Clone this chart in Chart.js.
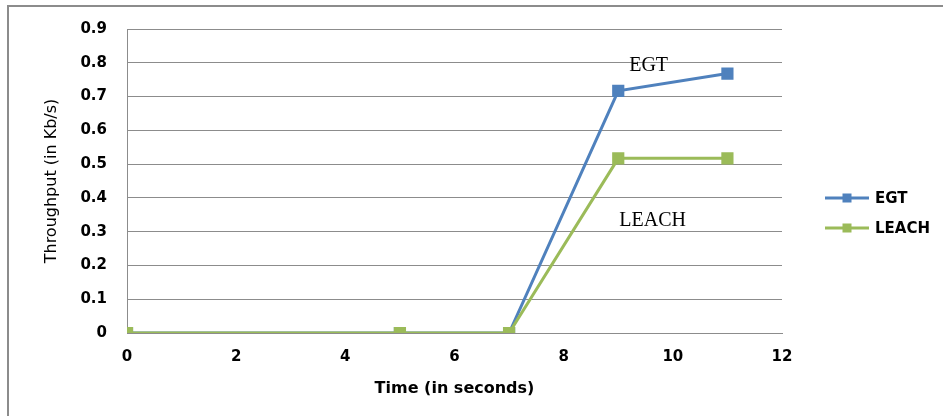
<!DOCTYPE html>
<html>
<head>
<meta charset="utf-8">
<script src="https://cdn.jsdelivr.net/npm/chart.js@4/dist/chart.umd.min.js"></script>
<style>
  body { margin: 0; background: #fff; }
  canvas { display: block; }
</style>
</head>
<body>
<canvas id="myChart" width="943" height="416"></canvas>
<script>
const times = [0, 5, 7, 9, 11];
const egt = [0, 0, 0, 0.717, 0.768];
const leach = [0, 0, 0, 0.517, 0.517];
const seriesNames = ["EGT", "LEACH"];
const seriesColors = ["#4F81BD", "#9BBB59"];
const yTicks = [0, 0.1, 0.2, 0.3, 0.4, 0.5, 0.6, 0.7, 0.8, 0.9];

// text labels sitting in the plot, placed with data coordinates
const notes = [
    { text: "EGT", x: 9.2, y: 0.775 },
    { text: "LEACH", x: 9.02, y: 0.318 }
];

function toPoints(values) {
    return times.map((t, i) => ({ x: t, y: values[i] }));
}

const frame = {
    id: "frame",
    beforeDraw(chart) {
        const c = chart.ctx;
        c.save();
        c.fillStyle = "#fff";
        c.fillRect(0, 0, chart.width, chart.height);
        c.strokeStyle = "#8c8c8c";
        c.lineWidth = 2;
        c.beginPath();
        c.moveTo(8, chart.height);
        c.lineTo(8, 6);
        c.lineTo(chart.width, 6);
        c.stroke();
        c.restore();
    },
    afterDraw(chart) {
        const c = chart.ctx;
        const xs = chart.scales.x, ys = chart.scales.y;
        c.save();
        // notes in the plot
        c.fillStyle = "#000";
        c.font = "20px 'Liberation Serif'";
        c.textBaseline = "alphabetic";
        c.textAlign = "left";
        for (const n of notes) {
            c.fillText(n.text, xs.getPixelForValue(n.x), ys.getPixelForValue(n.y));
        }
        // legend
        c.font = "bold 15px 'DejaVu Sans'";
        c.textBaseline = "middle";
        seriesNames.forEach((name, i) => {
            const y = 198 + i * 30;
            c.strokeStyle = seriesColors[i];
            c.lineWidth = 3;
            c.beginPath();
            c.moveTo(825, y);
            c.lineTo(869, y);
            c.stroke();
            c.fillStyle = seriesColors[i];
            c.fillRect(842.5, y - 4.5, 9, 9);
            c.fillStyle = "#000";
            c.fillText(name, 875, y + 1);
        });
        c.restore();
    }
};

const ctx = document.getElementById('myChart').getContext('2d');
const myChart = new Chart(ctx, {
    type: 'line',
    data: {
        datasets: [
            {
                label: seriesNames[0],
                data: toPoints(egt),
                borderColor: seriesColors[0],
                backgroundColor: seriesColors[0],
                borderWidth: 3,
                pointStyle: 'rect',
                pointRadius: 6.5,
                order: 2
            },
            {
                label: seriesNames[1],
                data: toPoints(leach),
                borderColor: seriesColors[1],
                backgroundColor: seriesColors[1],
                borderWidth: 3,
                pointStyle: 'rect',
                pointRadius: 6.5,
                order: 1
            }
        ]
    },
    options: {
        responsive: false,
        animation: false,
        layout: {
            padding: { left: 38, top: 24, right: 161, bottom: 16 }
        },
        plugins: {
            legend: { display: false },
            tooltip: { enabled: false }
        },
        scales: {
            x: {
                type: 'linear',
                min: 0,
                max: 12,
                afterFit: s => { s.height = 67; },
                ticks: {
                    stepSize: 2,
                    color: "#000",
                    padding: 15,
                    maxRotation: 0,
                    font: { family: "DejaVu Sans", size: 15, weight: "bold" }
                },
                grid: { display: false, drawTicks: false },
                border: { display: true, color: "#8c8c8c", width: 1 },
                title: {
                    display: true,
                    text: "Time (in seconds)",
                    color: "#000",
                    padding: { top: 0, bottom: 2 },
                    font: { family: "DejaVu Sans", size: 16, weight: "bold" }
                }
            },
            y: {
                min: 0,
                max: 0.9,
                afterFit: s => { s.width = 127 - 38; },
                afterBuildTicks: s => { s.ticks = yTicks.map(v => ({ value: v })); },
                ticks: {
                    color: "#000",
                    padding: 20,
                    callback: v => (v === 0 ? "0" : v.toFixed(1)),
                    font: { family: "DejaVu Sans", size: 15, weight: "bold" }
                },
                grid: { color: "#8c8c8c", lineWidth: 1, drawTicks: false },
                border: { display: true, color: "#8c8c8c", width: 1 },
                title: {
                    display: true,
                    text: "Throughput (in Kb/s)",
                    color: "#000",
                    padding: { top: 4, bottom: 4 },
                    font: { family: "DejaVu Sans", size: 16 }
                }
            }
        }
    },
    plugins: [frame]
});
</script>
</body>
</html>
